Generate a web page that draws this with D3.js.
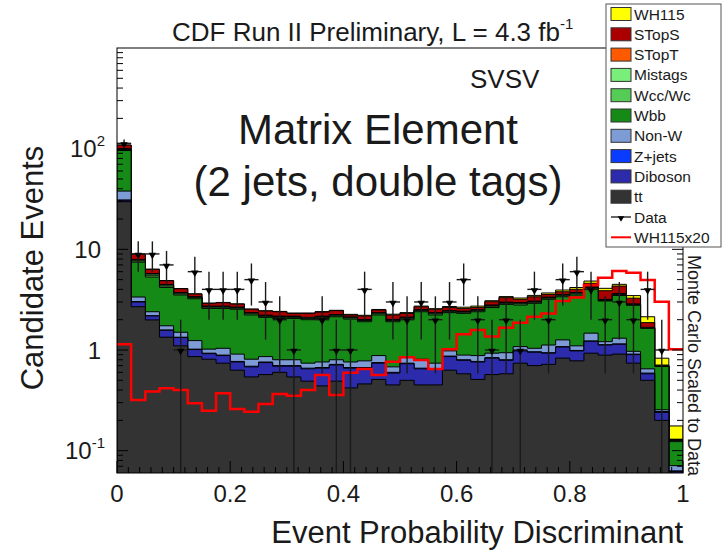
<!DOCTYPE html>
<html>
<head>
<meta charset="utf-8">
<script src="https://cdn.jsdelivr.net/npm/d3@7"></script>
<style>
  body { margin: 0; background: #fff; }
  svg { display: block; }
  text { font-family: "Liberation Sans", Arial, Helvetica, sans-serif; fill: #1a1a1a; }
</style>
</head>
<body>
<svg id="chart" width="723" height="551"></svg>
<script>
// Discriminant binning: 40 bins on [0, 1]
const nBins = 40;
const binLow = 0;
const binHigh = 1;

// Stacked background + signal expectations per bin (events)
const tt = [29.7, 2.69, 1.99, 1.34, 1.10, 0.86, 0.81, 0.74, 0.63, 0.54,
            0.57, 0.60, 0.54, 0.49, 0.44, 0.49, 0.42, 0.46, 0.51, 0.45,
            0.50, 0.45, 0.45, 0.63, 0.58, 0.51, 0.57, 0.58, 0.74, 0.70,
            0.72, 0.83, 0.78, 0.93, 0.89, 0.91, 0.74, 0.50, 0.20, 0.05];
const diboson = [1.0, 0.31, 0.19, 0.23, 0.23, 0.15, 0.11, 0.14, 0.13, 0.14,
                 0.18, 0.09, 0.15, 0.16, 0.22, 0.22, 0.24, 0.20, 0.23, 0.14,
                 0.23, 0.20, 0.19, 0.23, 0.21, 0.25, 0.26, 0.21, 0.24, 0.25,
                 0.21, 0.24, 0.20, 0.29, 0.23, 0.23, 0.16, 0.08, 0.04, 0.012];
const zjets = [0.2, 0.03, 0.01, 0.01, 0.01, 0.01, 0.01, 0.01, 0.01, 0.01,
               0.01, 0.01, 0.01, 0.01, 0.01, 0.01, 0.01, 0.01, 0.01, 0.01,
               0.01, 0.01, 0.01, 0.01, 0.01, 0.01, 0.01, 0.01, 0.01, 0.01,
               0.01, 0.01, 0.01, 0.01, 0.01, 0.01, 0.01, 0.01, 0.005, 0.001];
const nonW = [7.0, 0.33, 0.21, 0.16, 0.16, 0.22, 0.09, 0.15, 0.14, 0.12,
              0.10, 0.10, 0.10, 0.08, 0.09, 0.08, 0.09, 0.11, 0.13, 0.08,
              0.10, 0.15, 0.09, 0.11, 0.09, 0.11, 0.09, 0.14, 0.09, 0.08,
              0.18, 0.18, 0.11, 0.24, 0.08, 0.16, 0.06, 0.06, 0.01, 0.008];
const wbb = [57.9, 4.10, 2.91, 2.45, 2.02, 1.99, 1.57, 1.55, 1.63, 1.42,
             1.25, 1.26, 1.26, 1.26, 1.30, 1.34, 1.27, 1.13, 1.35, 1.23,
             1.18, 1.59, 1.49, 1.37, 1.42, 1.52, 1.71, 1.90, 1.72, 1.87,
             2.07, 2.12, 2.42, 2.54, 1.86, 2.17, 1.81, 0.99, 0.43, 0.052];
const wcc = [2.2, 0.20, 0.22, 0.13, 0.09, 0.08, 0.07, 0.07, 0.06, 0.06,
             0.05, 0.05, 0.05, 0.05, 0.05, 0.05, 0.05, 0.05, 0.06, 0.05,
             0.05, 0.06, 0.06, 0.05, 0.06, 0.06, 0.08, 0.07, 0.08, 0.07,
             0.08, 0.08, 0.09, 0.10, 0.04, 0.07, 0.04, 0.01, 0.007, 0.003];
const mistags = [1.1, 0.15, 0.15, 0.10, 0.07, 0.05, 0.04, 0.04, 0.04, 0.04,
                 0.04, 0.04, 0.04, 0.04, 0.04, 0.04, 0.03, 0.03, 0.04, 0.03,
                 0.03, 0.04, 0.04, 0.04, 0.04, 0.04, 0.05, 0.05, 0.05, 0.05,
                 0.05, 0.06, 0.07, 0.06, 0.03, 0.05, 0.02, 0.01, 0.004, 0.002];
const stopT = [0.8, 0.10, 0.07, 0.05, 0.04, 0.03, 0.03, 0.03, 0.03, 0.02,
               0.02, 0.02, 0.02, 0.02, 0.02, 0.02, 0.02, 0.02, 0.02, 0.02,
               0.02, 0.02, 0.02, 0.02, 0.02, 0.02, 0.03, 0.03, 0.03, 0.03,
               0.03, 0.03, 0.04, 0.05, 0.04, 0.04, 0.03, 0.02, 0.003, 0.001];
const stopS = [8.7, 1.05, 0.58, 0.41, 0.34, 0.21, 0.18, 0.22, 0.19, 0.19,
               0.22, 0.23, 0.14, 0.20, 0.21, 0.21, 0.10, 0.17, 0.15, 0.22,
               0.19, 0.17, 0.19, 0.19, 0.16, 0.13, 0.22, 0.32, 0.23, 0.32,
               0.22, 0.24, 0.29, 0.38, 0.70, 0.68, 0.40, 0.19, 0.01, 0.001];
const wh115 = [0.057, 0.016, 0.019, 0.021, 0.020, 0.015, 0.012, 0.019, 0.013, 0.012,
               0.015, 0.018, 0.018, 0.020, 0.028, 0.018, 0.030, 0.032, 0.028, 0.038,
               0.042, 0.040, 0.032, 0.051, 0.072, 0.079, 0.068, 0.083, 0.094, 0.107,
               0.116, 0.153, 0.167, 0.24, 0.22, 0.17, 0.20, 0.27, 0.12, 0.046];

// Signal shape scaled by 20 (drawn as an outline)
const wh115x20 = [1.14, 0.319, 0.386, 0.416, 0.401, 0.296, 0.249, 0.372, 0.260, 0.244,
                  0.291, 0.366, 0.352, 0.401, 0.564, 0.357, 0.595, 0.648, 0.564, 0.765,
                  0.846, 0.796, 0.648, 1.02, 1.43, 1.58, 1.36, 1.66, 1.87, 2.14,
                  2.31, 3.06, 3.33, 4.42, 5.23, 6.09, 5.85, 4.96, 3.02, 1.02];

// Observed events per bin
const data = [113, 9, 9, 7, 1, 6, 4, 4, 4, 5,
              3, 2, 1, 0, 2, 1, 1, 4, 0, 3,
              2, 3, 2, 3, 5, 2, 1, 2, 1, 4,
              2, 5, 6, 4, 2, 3, 2, 4, 1, 0];

// Axis ticks and labels
const xTickValues = [0, 0.2, 0.4, 0.6, 0.8, 1];
const xTickLabels = ["0", "0.2", "0.4", "0.6", "0.8", "1"];
const yTickValues = [0.1, 1, 10, 100];
const yTickBase = ["10", "1", "10", "10"];
const yTickExp = ["-1", "", "", "2"];

// Stack order (bottom to top) and legend entries
const layerKeys = ["tt", "diboson", "zjets", "nonW", "wbb", "wcc", "mistags", "stopT", "stopS", "wh115"];
const layerSeries = { tt, diboson, zjets, nonW, wbb, wcc, mistags, stopT, stopS, wh115 };
const layerColors = {
  tt: "#333333", diboson: "#2b2bab", zjets: "#0a3cff", nonW: "#7d9cd6",
  wbb: "#168a16", wcc: "#55cc55", mistags: "#7aee7a", stopT: "#ff5a00",
  stopS: "#aa0000", wh115: "#ffff00"
};
const legendLabels = ["WH115", "STopS", "STopT", "Mistags", "Wcc/Wc", "Wbb", "Non-W", "Z+jets", "Diboson", "tt", "Data", "WH115x20"];
const legendKeys = ["wh115", "stopS", "stopT", "mistags", "wcc", "wbb", "nonW", "zjets", "diboson", "tt", "data", "line"];

const svg = d3.select("#chart");
const frame = { left: 117, right: 683, top: 48, bottom: 473 };

const x = d3.scaleLinear().domain([binLow, binHigh]).range([frame.left, frame.right]);
const y = d3.scaleLog().domain([0.06, 1000]).range([frame.bottom, frame.top]).clamp(true);

const edges = d3.range(nBins + 1).map(i => binLow + i * (binHigh - binLow) / nBins);
const stepPoints = vals => vals.map((v, i) => [edges[i], v]).concat([[edges[nBins], vals[nBins - 1]]]);

svg.append("defs").append("clipPath").attr("id", "plotClip")
  .append("rect")
  .attr("x", frame.left).attr("y", frame.top)
  .attr("width", frame.right - frame.left).attr("height", frame.bottom - frame.top);

const plot = svg.append("g").attr("clip-path", "url(#plotClip)");

// Stacked histograms: draw cumulative totals from the top layer down
const rows = d3.range(nBins).map(i => {
  const r = {};
  layerKeys.forEach(k => { r[k] = layerSeries[k][i]; });
  return r;
});
const stacked = d3.stack().keys(layerKeys)(rows);

const area = d3.area()
  .curve(d3.curveStepAfter)
  .x(d => x(d[0]))
  .y0(frame.bottom + 2)
  .y1(d => y(d[1]));

for (let k = stacked.length - 1; k >= 0; k--) {
  const tops = stacked[k].map(d => d[1]);
  plot.append("path")
    .datum(stepPoints(tops))
    .attr("d", area)
    .attr("fill", layerColors[stacked[k].key])
    .attr("stroke", "#000")
    .attr("stroke-width", 1);
}

// Signal x20 outline
const line = d3.line().curve(d3.curveStepAfter).x(d => x(d[0])).y(d => y(d[1]));
plot.append("path")
  .datum(stepPoints(wh115x20))
  .attr("d", line)
  .attr("fill", "none")
  .attr("stroke", "#ff0000")
  .attr("stroke-width", 2.5);

// Data points with Poisson errors
const dataG = plot.append("g");
const tri = d3.symbol().type(d3.symbolTriangle).size(24);
data.forEach((n, i) => {
  if (n <= 0) return;
  const cx = x((edges[i] + edges[i + 1]) / 2);
  const err = Math.sqrt(n);
  dataG.append("line")
    .attr("x1", cx).attr("x2", cx)
    .attr("y1", y(n + err)).attr("y2", y(n - err))
    .attr("stroke", "#1a1a1a").attr("stroke-width", 1.4);
  dataG.append("line")
    .attr("x1", x(edges[i])).attr("x2", x(edges[i + 1]))
    .attr("y1", y(n)).attr("y2", y(n))
    .attr("stroke", "#1a1a1a").attr("stroke-width", 1.4);
  dataG.append("path")
    .attr("d", tri)
    .attr("transform", `translate(${cx},${y(n) + 1}) rotate(180)`)
    .attr("fill", "#000");
});

// Frame and ticks
const axisG = svg.append("g");
axisG.append("rect")
  .attr("x", frame.left).attr("y", frame.top)
  .attr("width", frame.right - frame.left).attr("height", frame.bottom - frame.top)
  .attr("fill", "none").attr("stroke", "#000").attr("stroke-width", 1);

const yMajor = [0.1, 1, 10, 100];
const yMinor = [];
[0.01, 0.1, 1, 10, 100].forEach(dec => {
  for (let m = 2; m <= 9; m++) {
    const v = dec * m;
    if (v > 0.06 && v < 1000) yMinor.push(v);
  }
});
yMajor.forEach(v => {
  axisG.append("line").attr("x1", frame.left).attr("x2", frame.left + 11)
    .attr("y1", y(v)).attr("y2", y(v)).attr("stroke", "#000");
  axisG.append("line").attr("x1", frame.right).attr("x2", frame.right - 11)
    .attr("y1", y(v)).attr("y2", y(v)).attr("stroke", "#000");
});
yMinor.forEach(v => {
  axisG.append("line").attr("x1", frame.left).attr("x2", frame.left + 6)
    .attr("y1", y(v)).attr("y2", y(v)).attr("stroke", "#000");
  axisG.append("line").attr("x1", frame.right).attr("x2", frame.right - 6)
    .attr("y1", y(v)).attr("y2", y(v)).attr("stroke", "#000");
});
d3.range(0, 1.0001, 0.02).forEach((v, i) => {
  const len = (i % 10 === 0) ? 12 : 6;
  axisG.append("line").attr("x1", x(v)).attr("x2", x(v))
    .attr("y1", frame.bottom).attr("y2", frame.bottom - len).attr("stroke", "#000");
});

// Tick labels
xTickValues.forEach((v, i) => {
  svg.append("text")
    .attr("x", x(v)).attr("y", 502)
    .attr("text-anchor", "middle")
    .attr("font-size", 24)
    .text(xTickLabels[i]);
});
yTickValues.forEach((v, i) => {
  const t = svg.append("text")
    .attr("x", yTickExp[i] ? 105 : 101)
    .attr("y", y(v) + 8.5)
    .attr("text-anchor", "end")
    .attr("font-size", 24);
  t.append("tspan").text(yTickBase[i]);
  if (yTickExp[i]) {
    t.append("tspan").attr("font-size", 15).attr("dy", -11).text(yTickExp[i]);
  }
});

// Axis titles
svg.append("text")
  .attr("transform", "translate(43,268) rotate(-90)")
  .attr("text-anchor", "middle")
  .attr("font-size", 31)
  .text("Candidate Events");
svg.append("text")
  .attr("x", frame.right).attr("y", 543)
  .attr("text-anchor", "end")
  .attr("font-size", 31)
  .text("Event Probability Discriminant");

// Title
const title = svg.append("text").attr("x", 172).attr("y", 41).attr("font-size", 26);
title.append("tspan").text("CDF Run II Preliminary, L = 4.3 fb");
title.append("tspan").attr("font-size", 15).attr("dy", -12).text("-1");

// Annotations
svg.append("text").attr("x", 470).attr("y", 88).attr("font-size", 26).text("SVSV");
svg.append("text").attr("x", 378).attr("y", 144).attr("text-anchor", "middle")
  .attr("font-size", 42).attr("fill", "#000").text("Matrix Element");
svg.append("text").attr("x", 378).attr("y", 196).attr("text-anchor", "middle")
  .attr("font-size", 42).attr("fill", "#000").text("(2 jets, double tags)");
svg.append("text")
  .attr("transform", "translate(688,255) rotate(90)")
  .attr("font-size", 18)
  .text("Monte Carlo Scaled to Data");

// Legend
const leg = svg.append("g");
leg.append("rect")
  .attr("x", 606).attr("y", 4).attr("width", 115).attr("height", 243)
  .attr("fill", "#fff").attr("stroke", "#555").attr("stroke-width", 1);
legendLabels.forEach((label, i) => {
  const cy = 14 + i * 20.3;
  const key = legendKeys[i];
  if (key === "data") {
    leg.append("line").attr("x1", 611).attr("x2", 631).attr("y1", cy).attr("y2", cy)
      .attr("stroke", "#000").attr("stroke-width", 1.2);
    leg.append("path").attr("d", d3.symbol().type(d3.symbolTriangle).size(18))
      .attr("transform", `translate(621,${cy + 1}) rotate(180)`).attr("fill", "#000");
  } else if (key === "line") {
    leg.append("line").attr("x1", 611).attr("x2", 631).attr("y1", cy).attr("y2", cy)
      .attr("stroke", "#ff0000").attr("stroke-width", 2);
  } else {
    leg.append("rect").attr("x", 611).attr("y", cy - 6.5).attr("width", 20).attr("height", 13)
      .attr("fill", layerColors[key]).attr("stroke", "#333").attr("stroke-width", 1);
  }
  leg.append("text").attr("x", 634).attr("y", cy + 5.5).attr("font-size", 15.5).text(label);
});
</script>
</body>
</html>
